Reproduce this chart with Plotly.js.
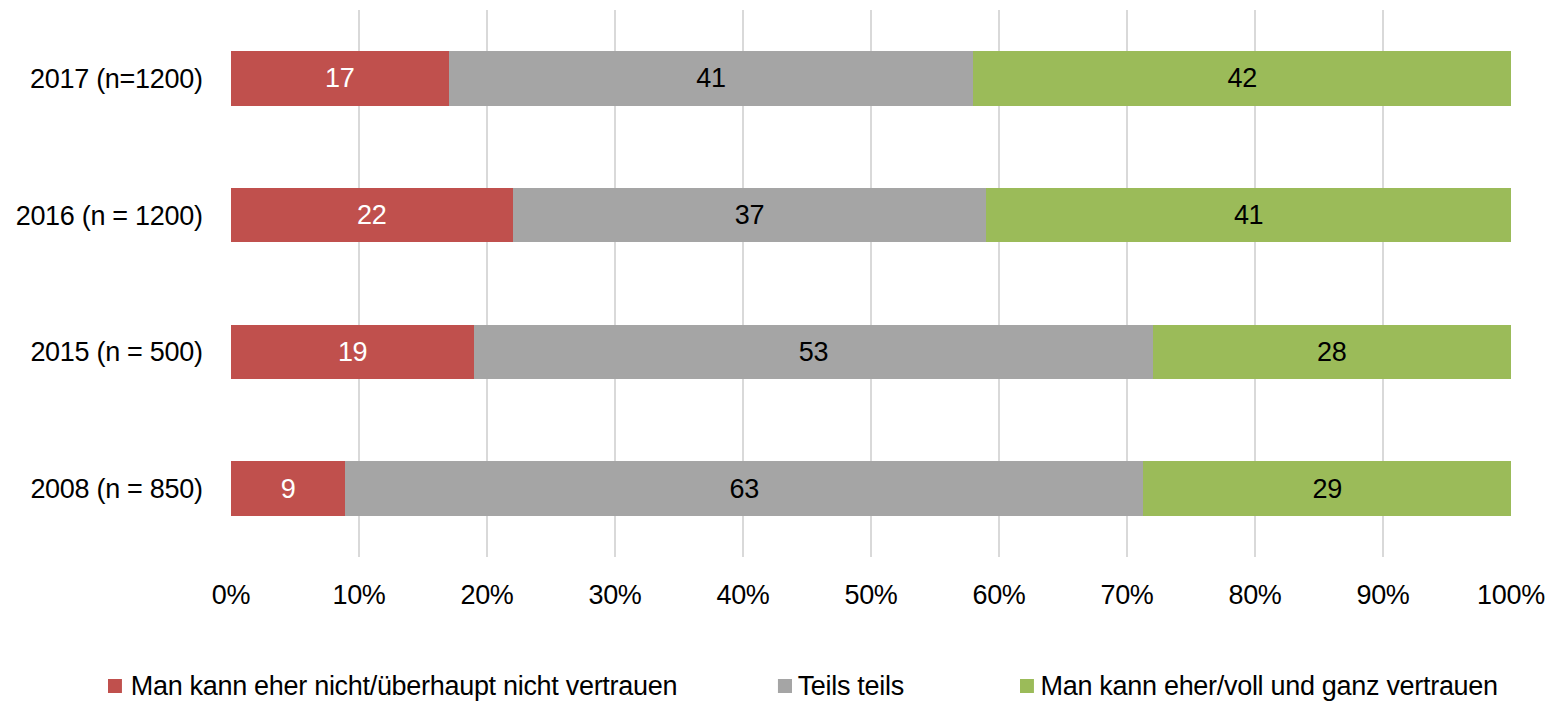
<!DOCTYPE html>
<html>
<head>
<meta charset="utf-8">
<script src="https://cdn.plot.ly/plotly-3.0.1.min.js"></script>
<style>
html,body{margin:0;padding:0;background:#fff;}
#chart{width:1559px;height:702px;}
.main-svg text{letter-spacing:-0.3px;}
</style>
</head>
<body>
<div id="chart"></div>
<script>
const categories = ['2017 (n=1200)', '2016 (n = 1200)', '2015 (n = 500)', '2008 (n = 850)'];
const seriesNames = ['Man kann eher nicht/überhaupt nicht vertrauen', 'Teils teils', 'Man kann eher/voll und ganz vertrauen'];
const distrust = [17, 22, 19, 9];
const partly = [41, 37, 53, 63];
const trust = [42, 41, 28, 29];
const tickVals = [0, 10, 20, 30, 40, 50, 60, 70, 80, 90, 100];
const tickLabels = ['0%', '10%', '20%', '30%', '40%', '50%', '60%', '70%', '80%', '90%', '100%'];
const colors = ['#C0504D', '#A5A5A5', '#9BBB59'];
const textColors = ['#FFFFFF', '#000000', '#000000'];

const FONT = '"Liberation Sans Narrow", "Arial Narrow", "Liberation Sans", Arial, sans-serif';
const FS = 27;
const series = [distrust, partly, trust];

const traces = series.map((vals, i) => ({
  type: 'bar',
  orientation: 'h',
  name: seriesNames[i],
  y: categories,
  x: vals,
  text: vals.map(String),
  texttemplate: '%{text}',
  textposition: 'inside',
  insidetextanchor: 'middle',
  textangle: 0,
  textfont: {family: FONT, size: FS, color: textColors[i]},
  marker: {color: colors[i], line: {width: 0}},
  showlegend: false,
  hoverinfo: 'skip'
}));

// custom legend (paper coordinates)
const legendY0 = -0.2230, legendY1 = -0.2486, legendYc = -0.2358;
const legendBoxes = [[-0.0961, -0.0852], [0.4273, 0.4383], [0.6164, 0.6273]];
const legendTextX = [-0.0852, 0.4397, 0.6262];

const shapes = legendBoxes.map((b, i) => ({
  type: 'rect', xref: 'paper', yref: 'paper',
  x0: b[0], x1: b[1], y0: legendY1, y1: legendY0,
  fillcolor: colors[i], line: {width: 0}
}));
const annotations = seriesNames.map((n, i) => ({
  xref: 'paper', yref: 'paper', x: legendTextX[i], y: legendYc,
  xanchor: 'left', yanchor: 'middle', text: n, showarrow: false,
  font: {family: FONT, size: FS, color: '#000'}
}));

const layout = {
  width: 1559, height: 702,
  margin: {l: 231, r: 48, t: 10, b: 145},
  barmode: 'stack',
  barnorm: 'percent',
  bargap: 0.6,
  paper_bgcolor: '#fff', plot_bgcolor: '#fff',
  font: {family: FONT, size: FS, color: '#000'},
  xaxis: {
    range: [0, 100],
    tickvals: tickVals, ticktext: tickLabels,
    showgrid: true, gridcolor: '#D9D9D9', gridwidth: 1.5,
    zeroline: false, showline: false,
    ticks: 'outside', ticklen: 14, tickcolor: 'rgba(0,0,0,0)',
    tickfont: {family: FONT, size: FS, color: '#000'},
    fixedrange: true
  },
  yaxis: {
    autorange: 'reversed',
    showgrid: false, zeroline: false, showline: false,
    ticks: 'outside', ticklen: 22, tickcolor: 'rgba(0,0,0,0)',
    tickfont: {family: FONT, size: FS, color: '#000'},
    fixedrange: true
  },
  shapes: shapes,
  annotations: annotations,
  showlegend: false
};

Plotly.newPlot('chart', traces, layout, {displayModeBar: false, staticPlot: true});
</script>
</body>
</html>
